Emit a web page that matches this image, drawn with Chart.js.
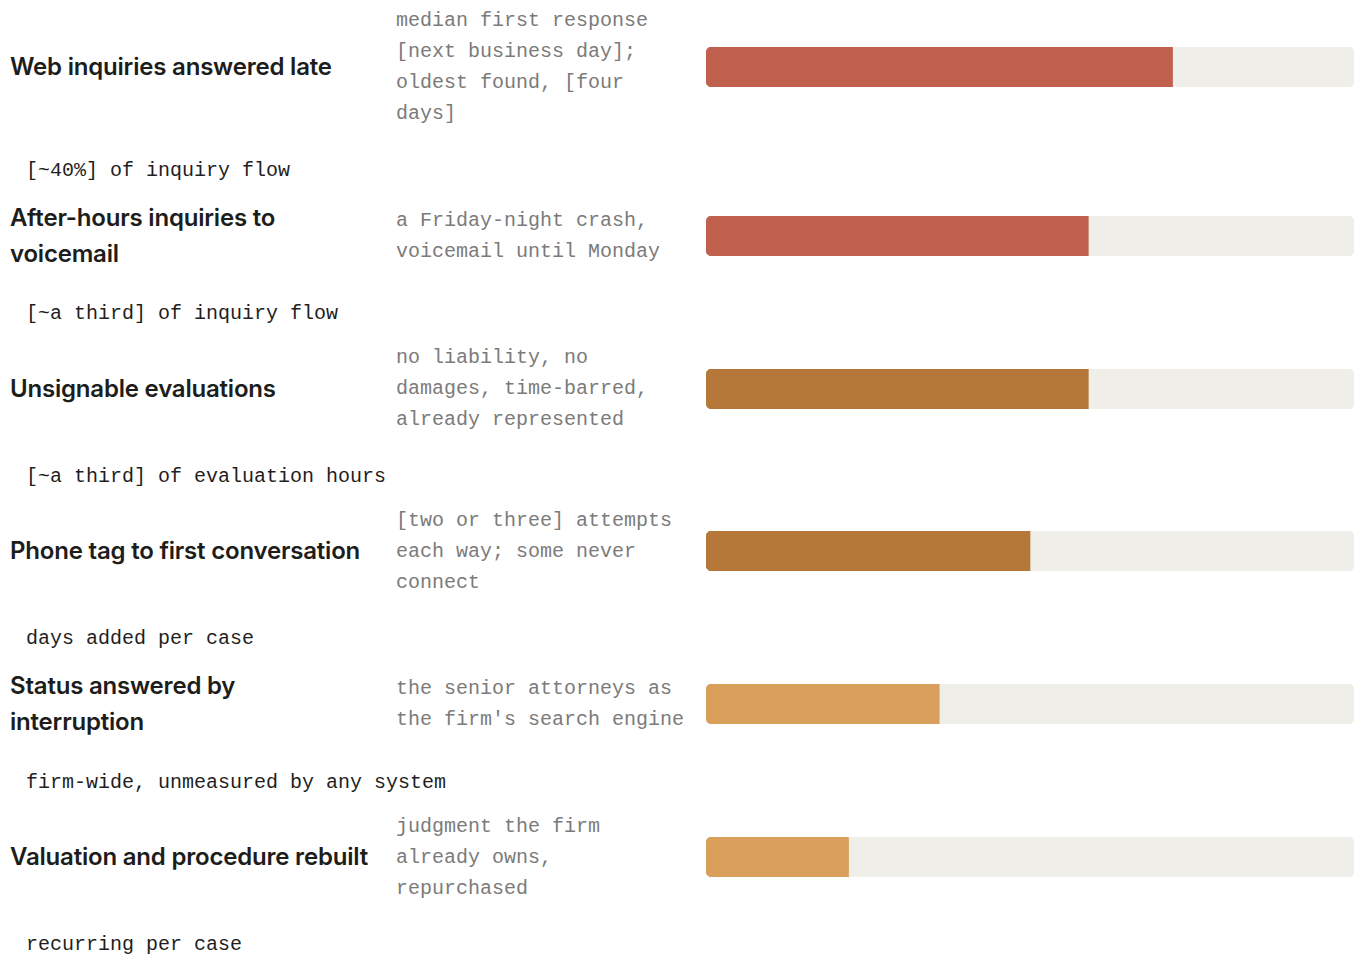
<!DOCTYPE html>
<html>
<head>
<meta charset="utf-8">
<script src="https://cdn.jsdelivr.net/npm/chart.js@4"></script>
<style>
  html, body { margin: 0; padding: 0; background: #ffffff; }
  body { width: 1356px; height: 954px; overflow: hidden; padding-top: 5px; box-sizing: border-box; }
  .row {
    display: grid;
    grid-template-columns: 362px 24px 294px 16px 648px;
    column-gap: 0;
    align-items: center;
    padding-left: 10px;
  }
  .label {
    grid-column: 1;
    font-family: Inter, "Noto Sans", sans-serif;
    font-weight: 600;
    font-size: 24px;
    line-height: 36px;
    padding: 1px 0;
    color: #1d1d1b;
    letter-spacing: -0.2px;
  }
  .note {
    grid-column: 3;
    font-family: "Liberation Mono", "DejaVu Sans Mono", monospace;
    font-size: 20px;
    line-height: 31px;
    letter-spacing: 0;
    color: #7b7b7b;
  }
  .bar { grid-column: 5; position: relative; width: 648px; height: 40px; }
  .caption {
    font-family: "Liberation Mono", "DejaVu Sans Mono", monospace;
    font-size: 20px;
    line-height: 31px;
    letter-spacing: 0;
    color: #1f1f1f;
    padding-left: 26px;
    margin-top: 25.5px;
    margin-bottom: 13px;
    white-space: nowrap;
  }
</style>
</head>
<body>
<div id="list"></div>
<script>
const categories = [
  "Web inquiries answered late",
  "After-hours inquiries to voicemail",
  "Unsignable evaluations",
  "Phone tag to first conversation",
  "Status answered by interruption",
  "Valuation and procedure rebuilt"
];
const notes = [
  "median first response [next business day]; oldest found, [four days]",
  "a Friday-night crash, voicemail until Monday",
  "no liability, no damages, time-barred, already represented",
  "[two or three] attempts each way; some never connect",
  "the senior attorneys as the firm's search engine",
  "judgment the firm already owns, repurchased"
];
const captions = [
  "[~40%] of inquiry flow",
  "[~a third] of inquiry flow",
  "[~a third] of evaluation hours",
  "days added per case",
  "firm-wide, unmeasured by any system",
  "recurring per case"
];
const values = [72, 59, 59, 50, 36, 22];
const trackMax = 100;
const barColors = ["#c0614f", "#c0614f", "#b57838", "#b57838", "#d9a05b", "#d9a05b"];
const trackColor = "#f0eee8";

const list = document.getElementById('list');
categories.forEach((cat, i) => {
  const row = document.createElement('div');
  row.className = 'row';
  const lab = document.createElement('div');
  lab.className = 'label';
  lab.textContent = cat;
  const note = document.createElement('div');
  note.className = 'note';
  note.textContent = notes[i];
  const barBox = document.createElement('div');
  barBox.className = 'bar';
  const canvas = document.createElement('canvas');
  barBox.appendChild(canvas);
  row.appendChild(lab);
  row.appendChild(note);
  row.appendChild(barBox);
  list.appendChild(row);
  const cap = document.createElement('div');
  cap.className = 'caption';
  cap.textContent = captions[i];
  list.appendChild(cap);

  new Chart(canvas, {
    type: 'bar',
    data: {
      labels: [cat],
      datasets: [
        {
          data: [values[i]],
          backgroundColor: barColors[i],
          borderRadius: { topLeft: 6, bottomLeft: 6, topRight: 0, bottomRight: 0 },
          borderSkipped: false,
          borderWidth: 0,
          grouped: false,
          barPercentage: 1,
          categoryPercentage: 1,
          order: 0
        },
        {
          data: [trackMax],
          backgroundColor: trackColor,
          borderRadius: 6,
          borderSkipped: false,
          borderWidth: 0,
          grouped: false,
          barPercentage: 1,
          categoryPercentage: 1,
          order: 1
        }
      ]
    },
    options: {
      indexAxis: 'y',
      responsive: true,
      maintainAspectRatio: false,
      animation: false,
      layout: { padding: 0 },
      plugins: { legend: { display: false }, tooltip: { enabled: false } },
      scales: {
        x: { display: false, min: 0, max: trackMax },
        y: { display: false }
      }
    }
  });
});
</script>
</body>
</html>
